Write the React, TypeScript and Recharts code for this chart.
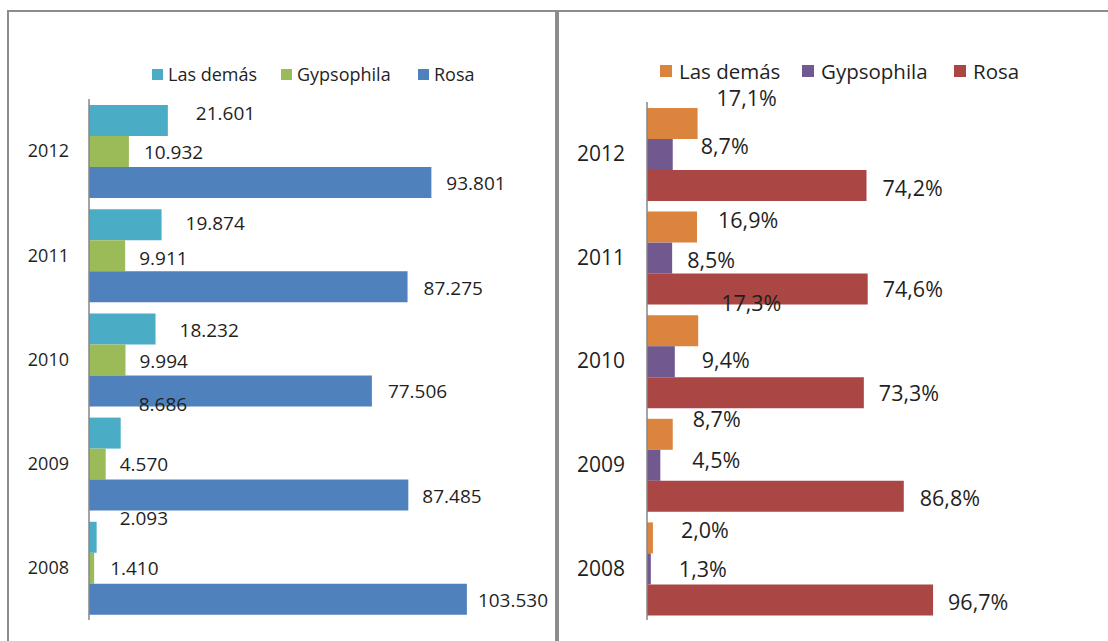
import { BarChart, Bar, XAxis, YAxis, LabelList } from "recharts";

// Exportaciones de flores: valores (izq.) y participación % (der.)

const YEARS = ["2012", "2011", "2010", "2009", "2008"];

const VAL_LAS_DEMAS = [21601, 19874, 18232, 8686, 2093];
const VAL_GYPSOPHILA = [10932, 9911, 9994, 4570, 1410];
const VAL_ROSA = [93801, 87275, 77506, 87485, 103530];

const PCT_LAS_DEMAS = [17.1, 16.9, 17.3, 8.7, 2.0];
const PCT_GYPSOPHILA = [8.7, 8.5, 9.4, 4.5, 1.3];
const PCT_ROSA = [74.2, 74.6, 73.3, 86.8, 96.7];

const SERIES = ["Las demás", "Gypsophila", "Rosa"];

const FONT = '"Open Sans", "Noto Sans", sans-serif';
const TEXT = "#1f1f1f";
const BORDER = "#8c8c8c";

const LEFT_COLORS = ["#4BACC6", "#9BBB59", "#4F81BD"];
const RIGHT_COLORS = ["#DB843D", "#71588F", "#AA4643"];

// hand-placed label offsets (dx from bar end, dy from bar centre), like the original
const LEFT_NUDGE = [
  [[28, -7], [24, -2], [24, 1], [18, -29], [23, -19]],
  [[15, 1], [14, 2], [14, 1], [14, 0], [16, 0]],
  [[15, 1], [16, 1], [16, 0], [14, 1], [11, 1]],
];
const RIGHT_NUDGE = [
  [[19, -25], [21, -7], [23, -27], [20, -15], [28, -8]],
  [[28, -8], [15, 2], [27, -1], [32, -5], [28, 0]],
  [[16, 3], [15, 0], [15, 1], [16, 2], [15, 2]],
];

const leftData = YEARS.map((year, i) => ({
  year,
  lasDemas: VAL_LAS_DEMAS[i],
  gypsophila: VAL_GYPSOPHILA[i],
  rosa: VAL_ROSA[i],
}));

const rightData = YEARS.map((year, i) => ({
  year,
  lasDemas: PCT_LAS_DEMAS[i],
  gypsophila: PCT_GYPSOPHILA[i],
  rosa: PCT_ROSA[i],
}));

const KEYS = ["lasDemas", "gypsophila", "rosa"];

function fmtThousands(v: number): string {
  return String(v).replace(/\B(?=(\d{3})+(?!\d))/g, ".");
}

function fmtPct(v: number): string {
  return v.toFixed(1).replace(".", ",") + "%";
}

function makeLabel(
  values: number[],
  nudges: number[][],
  fmt: (v: number) => string,
  fontSize: number
) {
  return (props: any) => {
    const { x, y, width, height, index, value } = props;
    const i = typeof index === "number" ? index : values.indexOf(Number(value));
    const [dx, dy] = nudges[i] ?? [14, 0];
    return (
      <text
        x={Number(x) + Number(width) + dx}
        y={Number(y) + Number(height) / 2 + dy + fontSize * 0.36}
        fontSize={fontSize}
        fontFamily={FONT}
        fill={TEXT}
      >
        {fmt(Number(value))}
      </text>
    );
  };
}

function LegendRow({
  colors,
  lefts,
  top,
  fontSize,
  square,
  gap,
}: {
  colors: string[];
  lefts: number[];
  top: number;
  fontSize: number;
  square: number;
  gap: number;
}) {
  return (
    <>
      {SERIES.map((name, i) => (
        <div
          key={name}
          style={{
            position: "absolute",
            left: lefts[i],
            top,
            display: "flex",
            alignItems: "center",
            height: fontSize,
            lineHeight: `${fontSize}px`,
            fontSize,
            color: TEXT,
            whiteSpace: "nowrap",
          }}
        >
          <span
            style={{
              display: "inline-block",
              width: square,
              height: square,
              background: colors[i],
              marginRight: gap,
            }}
          />
          <span>{name}</span>
        </div>
      ))}
    </>
  );
}

export default function App() {
  const leftValues = [VAL_LAS_DEMAS, VAL_GYPSOPHILA, VAL_ROSA];
  const rightValues = [PCT_LAS_DEMAS, PCT_GYPSOPHILA, PCT_ROSA];

  return (
    <div
      style={{
        position: "absolute",
        left: 0,
        top: 0,
        width: 1108,
        height: 641,
        overflow: "hidden",
        background: "#fff",
        fontFamily: FONT,
      }}
    >
      {/* panel frames */}
      <div
        style={{
          position: "absolute",
          left: 7,
          top: 10,
          width: 546,
          height: 700,
          borderLeft: `2px solid ${BORDER}`,
          borderTop: `2px solid ${BORDER}`,
          borderRight: `2px solid ${BORDER}`,
        }}
      />
      <div
        style={{
          position: "absolute",
          left: 557,
          top: 10,
          width: 600,
          height: 700,
          borderLeft: `2px solid ${BORDER}`,
          borderTop: `2px solid ${BORDER}`,
        }}
      />

      {/* left: valores */}
      <div style={{ position: "absolute", left: 0, top: 0 }}>
        <BarChart
          width={560}
          height={641}
          data={leftData}
          layout="vertical"
          margin={{ top: 99, right: 33, bottom: 21, left: 0 }}
          barCategoryGap={6}
          barGap={0}
        >
          <XAxis type="number" hide domain={[0, 120000]} />
          <YAxis
            type="category"
            dataKey="year"
            width={89}
            tickLine={false}
            tickSize={0}
            tickMargin={20}
            axisLine={{ stroke: "#868686", strokeWidth: 1.5 }}
            tick={{ fontSize: 18, fill: TEXT, fontFamily: FONT }}
          />
          {KEYS.map((k, s) => (
            <Bar key={k} dataKey={k} name={SERIES[s]} fill={LEFT_COLORS[s]} isAnimationActive={false}>
              <LabelList
                dataKey={k}
                content={makeLabel(leftValues[s], LEFT_NUDGE[s], fmtThousands, 19)}
              />
            </Bar>
          ))}
        </BarChart>
      </div>
      <LegendRow
        colors={LEFT_COLORS}
        lefts={[152, 281, 418]}
        top={65}
        fontSize={18}
        square={11}
        gap={5}
      />

      {/* right: participación */}
      <div style={{ position: "absolute", left: 560, top: 0 }}>
        <BarChart
          width={548}
          height={641}
          data={rightData}
          layout="vertical"
          margin={{ top: 102, right: 106, bottom: 21, left: 0 }}
          barCategoryGap={6}
          barGap={0}
        >
          <XAxis type="number" hide domain={[0, 120]} />
          <YAxis
            type="category"
            dataKey="year"
            width={87}
            tickLine={false}
            tickSize={0}
            tickMargin={22}
            axisLine={{ stroke: "#868686", strokeWidth: 1.5 }}
            tick={{ fontSize: 21, fill: TEXT, fontFamily: FONT }}
          />
          {KEYS.map((k, s) => (
            <Bar key={k} dataKey={k} name={SERIES[s]} fill={RIGHT_COLORS[s]} isAnimationActive={false}>
              <LabelList
                dataKey={k}
                content={makeLabel(rightValues[s], RIGHT_NUDGE[s], fmtPct, 21.5)}
              />
            </Bar>
          ))}
        </BarChart>
      </div>
      <LegendRow
        colors={RIGHT_COLORS}
        lefts={[660, 802, 954]}
        top={61}
        fontSize={20.5}
        square={12}
        gap={7}
      />
    </div>
  );
}
